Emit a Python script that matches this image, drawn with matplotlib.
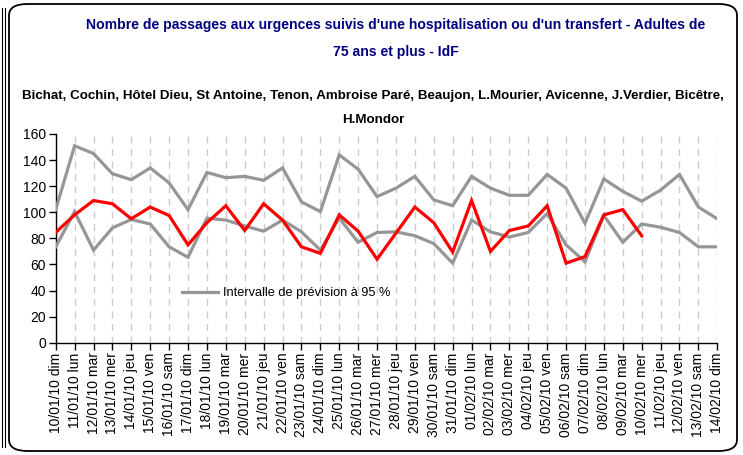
import matplotlib
matplotlib.use("Agg")
import matplotlib.pyplot as plt
from matplotlib.patches import FancyBboxPatch
from matplotlib.lines import Line2D

dates = ["10/01/10 dim", "11/01/10 lun", "12/01/10 mar", "13/01/10 mer", "14/01/10 jeu",
         "15/01/10 ven", "16/01/10 sam", "17/01/10 dim", "18/01/10 lun", "19/01/10 mar",
         "20/01/10 mer", "21/01/10 jeu", "22/01/10 ven", "23/01/10 sam", "24/01/10 dim",
         "25/01/10 lun", "26/01/10 mar", "27/01/10 mer", "28/01/10 jeu", "29/01/10 ven",
         "30/01/10 sam", "31/01/10 dim", "01/02/10 lun", "02/02/10 mar", "03/02/10 mer",
         "04/02/10 jeu", "05/02/10 ven", "06/02/10 sam", "07/02/10 dim", "08/02/10 lun",
         "09/02/10 mar", "10/02/10 mer", "11/02/10 jeu", "12/02/10 ven", "13/02/10 sam",
         "14/02/10 dim"]

upper = [102, 151, 145, 129.5, 125, 134, 122.5, 102, 130.5, 126.5, 127.5, 124.5,
         134, 108, 100.5, 144, 133, 112, 118.5, 127.5, 109.5, 105, 127.5, 118.5,
         113, 113, 129, 118.5, 91.5, 125.5, 116, 108.5, 117, 129, 104, 95]
lower = [73.5, 100.5, 71, 88, 94.5, 91, 73.5, 65.5, 95.5, 94, 89.5, 85.5,
         94, 85, 71, 95.5, 77, 84.5, 85, 82, 76, 61, 94, 85,
         81, 84.5, 99, 75, 62, 97.5, 77, 91, 88.5, 84.5, 73.5, 73.5]
observed = [84.5, 98, 109, 106.5, 95, 104, 97.5, 75, 92, 105, 86, 106.5,
            94, 73.5, 68.5, 98, 85.5, 64, 84, 104, 92, 69.5, 109, 70,
            86, 89.5, 105, 61, 66, 98, 102, 82]

yticks = [0, 20, 40, 60, 80, 100, 120, 140, 160]

title1 = "Nombre de passages aux urgences suivis d'une hospitalisation ou d'un transfert - Adultes de"
title2 = "75 ans et plus - IdF"
sub1 = "Bichat, Cochin, Hôtel Dieu, St Antoine, Tenon, Ambroise Paré, Beaujon, L.Mourier, Avicenne, J.Verdier, Bicêtre,"
sub2 = "H.Mondor"
legend_label = "Intervalle de prévision à 95 %"

plt.rcParams["font.family"] = ["Liberation Sans", "DejaVu Sans"]

W, H = 743, 455
fig = plt.figure(figsize=(W / 100, H / 100), dpi=100)

# outer rounded frame
frame = FancyBboxPatch((9 / W, 4 / H), 728 / W, 447 / H,
                       boxstyle="round,pad=0,rounding_size=0.025",
                       transform=fig.transFigure, facecolor="none",
                       edgecolor="black", linewidth=1.3, zorder=-10)
fig.patches.append(frame)
for xx in (1.5, 4.5):
    fig.add_artist(Line2D([xx / W, xx / W], [8 / H, 447 / H], color="black",
                          linewidth=0.8, transform=fig.transFigure))

left, right, top, bottom = 55.7, 717.3, 134, 342.7
ax = fig.add_axes([left / W, 1 - bottom / H, (right - left) / W, (bottom - top) / H])
ax.set_facecolor("none")

x = list(range(len(dates)))
ax.plot(x, upper, color="#969696", linewidth=2.3, label=legend_label, zorder=3,
        solid_joinstyle="miter")
ax.plot(x, lower, color="#969696", linewidth=2.3, zorder=3, solid_joinstyle="miter")
ax.plot(x[:len(observed)], observed, color="#ff0000", linewidth=2.3, zorder=4,
        solid_joinstyle="miter")

ax.set_xlim(0, len(dates) - 1)
ax.set_ylim(0, 160)
ax.set_xticks(x)
ax.set_xticklabels(dates, rotation=90, fontsize=10)
ax.set_yticks(yticks)
ax.set_yticklabels([str(v) for v in yticks], fontsize=10)
ax.tick_params(axis="both", direction="out", length=5, width=1, color="black", pad=2)
ax.grid(axis="x", color="#cccccc", linestyle=(0, (5, 4)), linewidth=1)
ax.set_axisbelow(True)
for s in ("top", "right"):
    ax.spines[s].set_visible(False)
for s in ("left", "bottom"):
    ax.spines[s].set_linewidth(1)
    ax.spines[s].set_color("black")

leg = ax.legend(loc="center left", bbox_to_anchor=(182 / W, 1 - 293 / H),
                bbox_transform=fig.transFigure, frameon=False,
                prop={"size": 9.2}, handlelength=2.8,
                handletextpad=0.4, borderaxespad=0, borderpad=0)

fig.text(396 / W, 1 - 25 / H, title1, ha="center", va="center", fontsize=10.1,
         fontweight="bold", color="#000080")
fig.text(396 / W, 1 - 52 / H, title2, ha="center", va="center", fontsize=10.1,
         fontweight="bold", color="#000080")
fig.text(373 / W, 1 - 96 / H, sub1, ha="center", va="center", fontsize=9.6,
         fontweight="bold", color="black")
fig.text(373 / W, 1 - 120 / H, sub2, ha="center", va="center", fontsize=9.6,
         fontweight="bold", color="black")

fig.savefig("out.png", dpi=100)
